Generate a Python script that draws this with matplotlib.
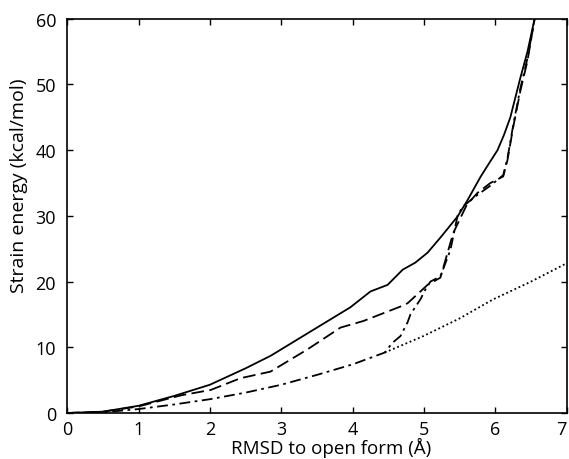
import matplotlib
matplotlib.use('Agg')
import matplotlib.pyplot as plt

plt.rcParams['font.family'] = ['Open Sans', 'DejaVu Sans']
plt.rcParams['font.size'] = 13

# solid curve
x_solid = [0, 0.5, 1.0, 1.5, 2.0, 2.5, 2.85, 3.41, 3.97, 4.25, 4.49, 4.7, 4.88, 5.05, 5.23,
           5.47, 5.6, 5.79, 5.9, 6.03, 6.12, 6.21, 6.35, 6.45, 6.55]
y_solid = [0, 0.2, 1.1, 2.6, 4.3, 6.8, 8.7, 12.4, 16.1, 18.5, 19.5, 21.8, 22.9, 24.4, 26.7,
           29.9, 32.2, 35.9, 37.8, 40.0, 42.3, 45.0, 51.0, 55.0, 60.0]

# dashed curve
x_dash = [0, 0.5, 1.0, 1.6, 2.01, 2.43, 2.85, 3.37, 3.83, 4.15, 4.67, 4.77, 5.05, 5.23,
          5.41, 5.6, 5.75, 5.93, 6.11, 6.17, 6.25, 6.35, 6.45, 6.55]
y_dash = [0, 0.2, 1.0, 2.7, 3.5, 5.3, 6.3, 9.7, 13.0, 14.0, 16.2, 16.7, 19.5, 20.6,
          27.4, 31.7, 33.5, 35.0, 36.0, 38.5, 43.5, 49.0, 53.6, 60.0]

# dash-dot curve
x_dd = [0, 0.5, 1.0, 1.5, 2.0, 2.5, 3.0, 3.5, 4.0, 4.45, 4.56, 4.67, 4.77, 4.81, 4.95,
        5.02, 5.09, 5.23, 5.37, 5.47, 5.54, 5.75, 5.93, 6.11, 6.17, 6.25, 6.35, 6.45, 6.55]
y_dd = [0, 0.1, 0.6, 1.3, 2.1, 3.1, 4.3, 5.8, 7.4, 9.2, 10.7, 11.7, 13.8, 15.0, 17.3,
        18.8, 20.0, 20.8, 24.8, 30.0, 31.4, 33.2, 34.6, 36.2, 38.8, 43.8, 49.4, 54.0, 60.0]

# dotted curve
x_dot = [4.45, 4.99, 5.5, 5.97, 6.5, 7.0]
y_dot = [9.2, 11.7, 14.4, 17.3, 20.0, 22.8]

xticks = [0, 1, 2, 3, 4, 5, 6, 7]
yticks = [0, 10, 20, 30, 40, 50, 60]

fig = plt.figure(figsize=(5.69, 4.60), dpi=100)
ax = fig.add_axes([0.118, 0.100, 0.878, 0.857])

lw = 1.3
ax.plot(x_dot, y_dot, color='black', linestyle=(0, (1, 1.5)), linewidth=lw)
ax.plot(x_dd, y_dd, color='black', linestyle=(0, (6, 2.5, 1.5, 2.5)), linewidth=lw)
ax.plot(x_dash, y_dash, color='black', linestyle=(0, (7, 3)), linewidth=lw)
ax.plot(x_solid, y_solid, color='black', linestyle='-', linewidth=lw)

ax.set_xlim(0, 7)
ax.set_ylim(0, 60)
ax.set_xticks(xticks)
ax.set_xticklabels([str(t) for t in xticks])
ax.set_yticks(yticks)
ax.tick_params(direction='in', top=True, right=True, length=4, width=1)
ax.tick_params(axis='x', pad=5)
ax.tick_params(axis='y', pad=8)
ax.get_xticklabels()[-1].set_horizontalalignment('right')
for s in ax.spines.values():
    s.set_linewidth(1.2)

ax.set_xlabel(u'RMSD to open form (Å)', fontsize=13.5)
ax.xaxis.set_label_coords(0.528, -0.062)
ax.set_ylabel('Strain energy (kcal/mol)', fontsize=14)
ax.yaxis.set_label_coords(-0.078, 0.58)

plt.savefig('out.png', dpi=100)
